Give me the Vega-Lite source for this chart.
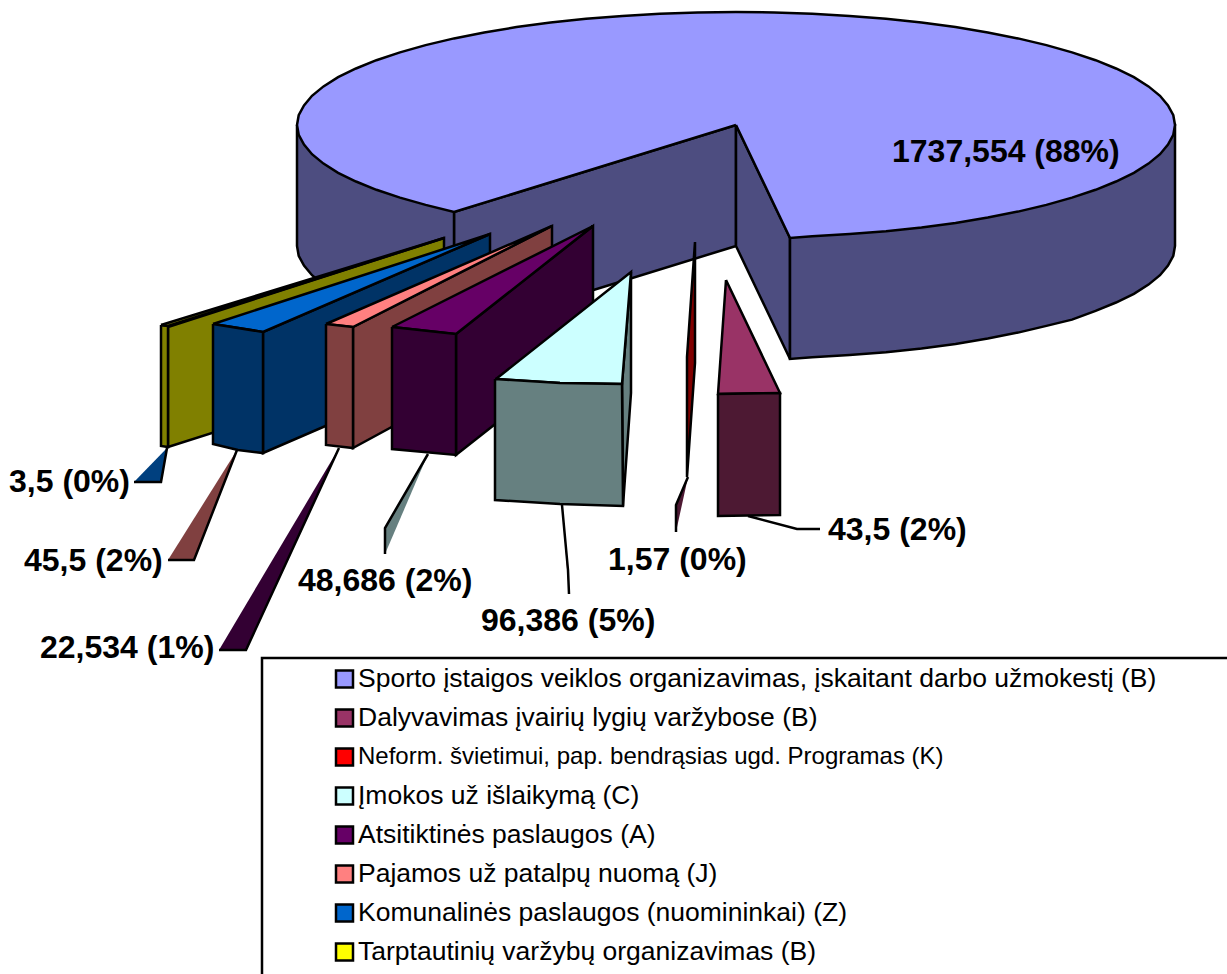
{"$schema":"https://vega.github.io/schema/vega-lite/v6.json","width":1227,"height":974,"padding":0,"autosize":{"type":"none"},"background":"white","view":{"stroke":null},
"datasets":{
"poly":[
{"shape":"wallL","face":"pieSide","i":0,"x":736,"y":125},{"shape":"wallL","face":"pieSide","i":1,"x":454,"y":212},{"shape":"wallL","face":"pieSide","i":2,"x":454,"y":333},{"shape":"wallL","face":"pieSide","i":3,"x":736,"y":246},{"shape":"wallL","face":"pieSide","i":4,"x":736,"y":125},
{"shape":"wallR","face":"pieSide","i":0,"x":736,"y":125},{"shape":"wallR","face":"pieSide","i":1,"x":790,"y":238},{"shape":"wallR","face":"pieSide","i":2,"x":790,"y":359},{"shape":"wallR","face":"pieSide","i":3,"x":736,"y":246},{"shape":"wallR","face":"pieSide","i":4,"x":736,"y":125},
{"shape":"sideR","face":"pieSide","i":0,"x":790,"y":238},{"shape":"sideR","face":"pieSide","i":1,"x":790,"y":359},{"shape":"sideR","face":"pieSide","i":2,"x":812.2,"y":357.3},{"shape":"sideR","face":"pieSide","i":3,"x":849.6,"y":355.1},{"shape":"sideR","face":"pieSide","i":4,"x":886,"y":352.2},{"shape":"sideR","face":"pieSide","i":5,"x":921.5,"y":348.4},{"shape":"sideR","face":"pieSide","i":6,"x":955.5,"y":343.9},{"shape":"sideR","face":"pieSide","i":7,"x":987.8,"y":338.6},{"shape":"sideR","face":"pieSide","i":8,"x":1018,"y":332.6},{"shape":"sideR","face":"pieSide","i":9,"x":1046.4,"y":325.9},{"shape":"sideR","face":"pieSide","i":10,"x":1072,"y":319.6},{"shape":"sideR","face":"pieSide","i":11,"x":1095.6,"y":310.8},{"shape":"sideR","face":"pieSide","i":12,"x":1116,"y":302.5},{"shape":"sideR","face":"pieSide","i":13,"x":1133.9,"y":293.8},{"shape":"sideR","face":"pieSide","i":14,"x":1148.5,"y":284.6},{"shape":"sideR","face":"pieSide","i":15,"x":1160,"y":275.2},{"shape":"sideR","face":"pieSide","i":16,"x":1168,"y":265.6},{"shape":"sideR","face":"pieSide","i":17,"x":1173.3,"y":255.8},{"shape":"sideR","face":"pieSide","i":18,"x":1175,"y":246},{"shape":"sideR","face":"pieSide","i":19,"x":1175,"y":125},{"shape":"sideR","face":"pieSide","i":20,"x":790,"y":125},{"shape":"sideR","face":"pieSide","i":21,"x":790,"y":238},
{"shape":"sideL","face":"pieSide","i":0,"x":297,"y":125},{"shape":"sideL","face":"pieSide","i":1,"x":297,"y":246},{"shape":"sideL","face":"pieSide","i":2,"x":298.7,"y":255.8},{"shape":"sideL","face":"pieSide","i":3,"x":304,"y":265.6},{"shape":"sideL","face":"pieSide","i":4,"x":312,"y":275.2},{"shape":"sideL","face":"pieSide","i":5,"x":323.5,"y":284.6},{"shape":"sideL","face":"pieSide","i":6,"x":338.1,"y":293.8},{"shape":"sideL","face":"pieSide","i":7,"x":356,"y":302.5},{"shape":"sideL","face":"pieSide","i":8,"x":376.4,"y":310.8},{"shape":"sideL","face":"pieSide","i":9,"x":400,"y":319.6},{"shape":"sideL","face":"pieSide","i":10,"x":425.6,"y":325.9},{"shape":"sideL","face":"pieSide","i":11,"x":454,"y":333},{"shape":"sideL","face":"pieSide","i":12,"x":454,"y":125},{"shape":"sideL","face":"pieSide","i":13,"x":297,"y":125},
{"shape":"top","face":"pieTop","i":0,"x":736,"y":125},{"shape":"top","face":"pieTop","i":1,"x":790,"y":238},{"shape":"top","face":"pieTop","i":2,"x":812.2,"y":236.3},{"shape":"top","face":"pieTop","i":3,"x":849.6,"y":234.1},{"shape":"top","face":"pieTop","i":4,"x":886,"y":231.2},{"shape":"top","face":"pieTop","i":5,"x":921.5,"y":227.4},{"shape":"top","face":"pieTop","i":6,"x":955.5,"y":222.9},{"shape":"top","face":"pieTop","i":7,"x":987.8,"y":217.6},{"shape":"top","face":"pieTop","i":8,"x":1018,"y":211.6},{"shape":"top","face":"pieTop","i":9,"x":1046.4,"y":204.9},{"shape":"top","face":"pieTop","i":10,"x":1072,"y":197.6},{"shape":"top","face":"pieTop","i":11,"x":1095.6,"y":189.8},{"shape":"top","face":"pieTop","i":12,"x":1116,"y":181.5},{"shape":"top","face":"pieTop","i":13,"x":1133.9,"y":172.8},{"shape":"top","face":"pieTop","i":14,"x":1148.5,"y":163.6},{"shape":"top","face":"pieTop","i":15,"x":1160,"y":154.2},{"shape":"top","face":"pieTop","i":16,"x":1168,"y":144.6},{"shape":"top","face":"pieTop","i":17,"x":1173.3,"y":134.8},{"shape":"top","face":"pieTop","i":18,"x":1175,"y":125},{"shape":"top","face":"pieTop","i":19,"x":1173.3,"y":115.2},{"shape":"top","face":"pieTop","i":20,"x":1168,"y":105.4},{"shape":"top","face":"pieTop","i":21,"x":1160,"y":95.8},{"shape":"top","face":"pieTop","i":22,"x":1148.5,"y":86.4},{"shape":"top","face":"pieTop","i":23,"x":1133.9,"y":77.2},{"shape":"top","face":"pieTop","i":24,"x":1116,"y":68.5},{"shape":"top","face":"pieTop","i":25,"x":1095.6,"y":60.2},{"shape":"top","face":"pieTop","i":26,"x":1072,"y":52.4},{"shape":"top","face":"pieTop","i":27,"x":1046.4,"y":45.1},{"shape":"top","face":"pieTop","i":28,"x":1018,"y":38.4},{"shape":"top","face":"pieTop","i":29,"x":987.8,"y":32.4},{"shape":"top","face":"pieTop","i":30,"x":955.5,"y":27.1},{"shape":"top","face":"pieTop","i":31,"x":921.5,"y":22.6},{"shape":"top","face":"pieTop","i":32,"x":886,"y":18.8},{"shape":"top","face":"pieTop","i":33,"x":849.6,"y":15.9},{"shape":"top","face":"pieTop","i":34,"x":812.2,"y":13.7},{"shape":"top","face":"pieTop","i":35,"x":774.3,"y":12.4},{"shape":"top","face":"pieTop","i":36,"x":736,"y":12},{"shape":"top","face":"pieTop","i":37,"x":697.7,"y":12.4},{"shape":"top","face":"pieTop","i":38,"x":659.8,"y":13.7},{"shape":"top","face":"pieTop","i":39,"x":622.4,"y":15.9},{"shape":"top","face":"pieTop","i":40,"x":586,"y":18.8},{"shape":"top","face":"pieTop","i":41,"x":550.5,"y":22.6},{"shape":"top","face":"pieTop","i":42,"x":516.5,"y":27.1},{"shape":"top","face":"pieTop","i":43,"x":484.2,"y":32.4},{"shape":"top","face":"pieTop","i":44,"x":454,"y":38.4},{"shape":"top","face":"pieTop","i":45,"x":425.6,"y":45.1},{"shape":"top","face":"pieTop","i":46,"x":400,"y":52.4},{"shape":"top","face":"pieTop","i":47,"x":376.4,"y":60.2},{"shape":"top","face":"pieTop","i":48,"x":356,"y":68.5},{"shape":"top","face":"pieTop","i":49,"x":338.1,"y":77.2},{"shape":"top","face":"pieTop","i":50,"x":323.5,"y":86.4},{"shape":"top","face":"pieTop","i":51,"x":312,"y":95.8},{"shape":"top","face":"pieTop","i":52,"x":304,"y":105.4},{"shape":"top","face":"pieTop","i":53,"x":298.7,"y":115.2},{"shape":"top","face":"pieTop","i":54,"x":297,"y":125},{"shape":"top","face":"pieTop","i":55,"x":298.7,"y":134.8},{"shape":"top","face":"pieTop","i":56,"x":304,"y":144.6},{"shape":"top","face":"pieTop","i":57,"x":312,"y":154.2},{"shape":"top","face":"pieTop","i":58,"x":323.5,"y":163.6},{"shape":"top","face":"pieTop","i":59,"x":338.1,"y":172.8},{"shape":"top","face":"pieTop","i":60,"x":356,"y":181.5},{"shape":"top","face":"pieTop","i":61,"x":376.4,"y":189.8},{"shape":"top","face":"pieTop","i":62,"x":400,"y":197.6},{"shape":"top","face":"pieTop","i":63,"x":425.6,"y":204.9},{"shape":"top","face":"pieTop","i":64,"x":454,"y":212},{"shape":"top","face":"pieTop","i":65,"x":736,"y":125},

{"shape":"oliveSide","face":"olive","i":0,"x":168,"y":327},{"shape":"oliveSide","face":"olive","i":1,"x":444,"y":238},{"shape":"oliveSide","face":"olive","i":2,"x":444,"y":359},{"shape":"oliveSide","face":"olive","i":3,"x":168,"y":447},{"shape":"oliveSide","face":"olive","i":4,"x":168,"y":327},
{"shape":"oliveFront","face":"olive","i":0,"x":161,"y":325},{"shape":"oliveFront","face":"olive","i":1,"x":168,"y":326},{"shape":"oliveFront","face":"olive","i":2,"x":168,"y":447},{"shape":"oliveFront","face":"olive","i":3,"x":161,"y":446},{"shape":"oliveFront","face":"olive","i":4,"x":161,"y":325},
{"shape":"oliveTop","face":"olive","i":0,"x":161,"y":325},{"shape":"oliveTop","face":"olive","i":1,"x":444,"y":238},{"shape":"oliveTop","face":"olive","i":2,"x":168,"y":326},{"shape":"oliveTop","face":"olive","i":3,"x":161,"y":325},

{"shape":"blueSide","face":"navy","i":0,"x":263,"y":332},{"shape":"blueSide","face":"navy","i":1,"x":490,"y":234},{"shape":"blueSide","face":"navy","i":2,"x":490,"y":355},{"shape":"blueSide","face":"navy","i":3,"x":263,"y":453},{"shape":"blueSide","face":"navy","i":4,"x":263,"y":332},
{"shape":"blueTop","face":"blue","i":0,"x":213,"y":324},{"shape":"blueTop","face":"blue","i":1,"x":263,"y":332},{"shape":"blueTop","face":"blue","i":2,"x":490,"y":234},{"shape":"blueTop","face":"blue","i":3,"x":213,"y":324},
{"shape":"blueFront","face":"navy","i":0,"x":213,"y":324},{"shape":"blueFront","face":"navy","i":1,"x":263,"y":332},{"shape":"blueFront","face":"navy","i":2,"x":263,"y":453},{"shape":"blueFront","face":"navy","i":3,"x":238,"y":450},{"shape":"blueFront","face":"navy","i":4,"x":213,"y":444},{"shape":"blueFront","face":"navy","i":5,"x":213,"y":324},

{"shape":"pinkSide","face":"brown","i":0,"x":353,"y":327},{"shape":"pinkSide","face":"brown","i":1,"x":552,"y":226},{"shape":"pinkSide","face":"brown","i":2,"x":552,"y":340},{"shape":"pinkSide","face":"brown","i":3,"x":353,"y":448},{"shape":"pinkSide","face":"brown","i":4,"x":353,"y":327},
{"shape":"pinkTop","face":"pink","i":0,"x":326,"y":324},{"shape":"pinkTop","face":"pink","i":1,"x":353,"y":327},{"shape":"pinkTop","face":"pink","i":2,"x":552,"y":226},{"shape":"pinkTop","face":"pink","i":3,"x":326,"y":324},
{"shape":"pinkFront","face":"brown","i":0,"x":326,"y":324},{"shape":"pinkFront","face":"brown","i":1,"x":353,"y":327},{"shape":"pinkFront","face":"brown","i":2,"x":353,"y":448},{"shape":"pinkFront","face":"brown","i":3,"x":326,"y":445},{"shape":"pinkFront","face":"brown","i":4,"x":326,"y":324},

{"shape":"purpleSide","face":"darkPurple","i":0,"x":456,"y":334},{"shape":"purpleSide","face":"darkPurple","i":1,"x":593,"y":226},{"shape":"purpleSide","face":"darkPurple","i":2,"x":593,"y":347},{"shape":"purpleSide","face":"darkPurple","i":3,"x":456,"y":455},{"shape":"purpleSide","face":"darkPurple","i":4,"x":456,"y":334},
{"shape":"purpleTop","face":"purple","i":0,"x":392,"y":327},{"shape":"purpleTop","face":"purple","i":1,"x":456,"y":334},{"shape":"purpleTop","face":"purple","i":2,"x":593,"y":226},{"shape":"purpleTop","face":"purple","i":3,"x":392,"y":327},
{"shape":"purpleFront","face":"darkPurple","i":0,"x":392,"y":327},{"shape":"purpleFront","face":"darkPurple","i":1,"x":456,"y":334},{"shape":"purpleFront","face":"darkPurple","i":2,"x":456,"y":455},{"shape":"purpleFront","face":"darkPurple","i":3,"x":392,"y":449},{"shape":"purpleFront","face":"darkPurple","i":4,"x":392,"y":327},

{"shape":"cyanSide","face":"teal","i":0,"x":622,"y":384},{"shape":"cyanSide","face":"teal","i":1,"x":631,"y":272},{"shape":"cyanSide","face":"teal","i":2,"x":631,"y":393},{"shape":"cyanSide","face":"teal","i":3,"x":623,"y":506},{"shape":"cyanSide","face":"teal","i":4,"x":622,"y":384},
{"shape":"cyanTop","face":"cyan","i":0,"x":496,"y":379},{"shape":"cyanTop","face":"cyan","i":1,"x":560,"y":383},{"shape":"cyanTop","face":"cyan","i":2,"x":622,"y":384},{"shape":"cyanTop","face":"cyan","i":3,"x":631,"y":272},{"shape":"cyanTop","face":"cyan","i":4,"x":496,"y":379},
{"shape":"cyanFront","face":"teal","i":0,"x":495,"y":379},{"shape":"cyanFront","face":"teal","i":1,"x":560,"y":383},{"shape":"cyanFront","face":"teal","i":2,"x":622,"y":384},{"shape":"cyanFront","face":"teal","i":3,"x":623,"y":506},{"shape":"cyanFront","face":"teal","i":4,"x":560,"y":504},{"shape":"cyanFront","face":"teal","i":5,"x":495,"y":500},{"shape":"cyanFront","face":"teal","i":6,"x":495,"y":379},

{"shape":"redSide","face":"darkRed","i":0,"x":695,"y":242},{"shape":"redSide","face":"darkRed","i":1,"x":687,"y":357},{"shape":"redSide","face":"darkRed","i":2,"x":687,"y":477},{"shape":"redSide","face":"darkRed","i":3,"x":695,"y":363},{"shape":"redSide","face":"darkRed","i":4,"x":695,"y":242},

{"shape":"maroonTop","face":"maroon","i":0,"x":726,"y":280},{"shape":"maroonTop","face":"maroon","i":1,"x":718,"y":394},{"shape":"maroonTop","face":"maroon","i":2,"x":780,"y":393},{"shape":"maroonTop","face":"maroon","i":3,"x":726,"y":280},
{"shape":"maroonFront","face":"darkMaroon","i":0,"x":718,"y":394},{"shape":"maroonFront","face":"darkMaroon","i":1,"x":780,"y":393},{"shape":"maroonFront","face":"darkMaroon","i":2,"x":780,"y":515},{"shape":"maroonFront","face":"darkMaroon","i":3,"x":718,"y":516},{"shape":"maroonFront","face":"darkMaroon","i":4,"x":718,"y":394},

{"shape":"lead1","face":"leaderBlue","i":0,"x":167,"y":448},{"shape":"lead1","face":"leaderBlue","i":1,"x":161,"y":482},{"shape":"lead1","face":"leaderBlue","i":2,"x":134,"y":482},
{"shape":"lead2","face":"brown","i":0,"x":237,"y":450},{"shape":"lead2","face":"brown","i":1,"x":194,"y":560},{"shape":"lead2","face":"brown","i":2,"x":168,"y":560},
{"shape":"lead3","face":"darkPurple","i":0,"x":339,"y":448},{"shape":"lead3","face":"darkPurple","i":1,"x":246,"y":650},{"shape":"lead3","face":"darkPurple","i":2,"x":219,"y":650},
{"shape":"lead4","face":"teal","i":0,"x":428,"y":454},{"shape":"lead4","face":"teal","i":1,"x":385,"y":528},{"shape":"lead4","face":"teal","i":2,"x":385,"y":554},
{"shape":"lead5","face":"darkRed","i":0,"x":562,"y":505},{"shape":"lead5","face":"darkRed","i":1,"x":568,"y":570},{"shape":"lead5","face":"darkRed","i":2,"x":569,"y":594},
{"shape":"lead6","face":"darkMaroon","i":0,"x":688,"y":477},{"shape":"lead6","face":"darkMaroon","i":1,"x":676,"y":505},{"shape":"lead6","face":"darkMaroon","i":2,"x":676,"y":532},
{"shape":"lead7","face":"paper","i":0,"x":748,"y":516},{"shape":"lead7","face":"paper","i":1,"x":797,"y":529},{"shape":"lead7","face":"paper","i":2,"x":820,"y":529},
{"shape":"box","face":"paper","i":0,"x":262,"y":976},{"shape":"box","face":"paper","i":1,"x":262,"y":658},{"shape":"box","face":"paper","i":2,"x":1229,"y":658}
],
"labels":[
{"label":"1737,554 (88%)","x":892,"y":152},
{"label":"43,5 (2%)","x":828,"y":530},
{"label":"1,57 (0%)","x":608,"y":560},
{"label":"96,386 (5%)","x":481,"y":621},
{"label":"48,686 (2%)","x":298,"y":581},
{"label":"22,534 (1%)","x":40,"y":648},
{"label":"45,5 (2%)","x":24,"y":561},
{"label":"3,5 (0%)","x":9,"y":482}
],
"legend":[
{"item":"Sporto įstaigos veiklos organizavimas, įskaitant darbo užmokestį (B)","face":"pieTop","sx":344.5,"tx":358,"y":679},
{"item":"Dalyvavimas įvairių lygių varžybose (B)","face":"maroon","sx":344.5,"tx":358,"y":718},
{"item":"Įmokos už išlaikymą (C)","face":"cyan","sx":344.5,"tx":358,"y":796},
{"item":"Atsitiktinės paslaugos (A)","face":"purple","sx":344.5,"tx":358,"y":835},
{"item":"Pajamos už patalpų nuomą (J)","face":"pink","sx":344.5,"tx":358,"y":874},
{"item":"Komunalinės paslaugos (nuomininkai) (Z)","face":"blue","sx":344.5,"tx":358,"y":913},
{"item":"Tarptautinių varžybų organizavimas (B)","face":"yellow","sx":344.5,"tx":358,"y":952}
],
"legend2":[
{"item":"Neform. švietimui, pap. bendrąsias ugd. Programas (K)","face":"red","sx":344.5,"tx":358,"y":757}
]
},
"encoding":{},
"layer":[
{"data":{"name":"poly"},"mark":{"type":"line","stroke":"black","strokeWidth":2.5,"strokeJoin":"miter","interpolate":"linear","clip":true},
"encoding":{"x":{"field":"x","type":"quantitative","scale":{"domain":[0,1227],"nice":false,"zero":false},"axis":null},"y":{"field":"y","type":"quantitative","scale":{"domain":[974,0],"nice":false,"zero":false},"axis":null},"order":{"field":"i","type":"quantitative"},"detail":{"field":"shape","type":"nominal"},
"fill":{"field":"face","type":"nominal","legend":null,"scale":{"domain":["pieSide","pieTop","olive","navy","blue","brown","pink","darkPurple","purple","teal","cyan","darkRed","red","maroon","darkMaroon","leaderBlue","paper","yellow"],"range":["#4D4D80","#9999FF","#808000","#003366","#0066CC","#804040","#FF8080","#330033","#660066","#668080","#CCFFFF","#800000","#FF0000","#993366","#4D1933","#00407F","#FFFFFF","#FFFF00"]}}}},
{"data":{"name":"labels"},"mark":{"type":"text","font":"Liberation Sans","fontWeight":"bold","fontSize":32,"align":"left","baseline":"middle","color":"black"},
"encoding":{"x":{"field":"x","type":"quantitative"},"y":{"field":"y","type":"quantitative"},"text":{"field":"label"}}},
{"data":{"name":"legend"},"mark":{"type":"text","font":"Liberation Sans","fontSize":26.5,"align":"left","baseline":"middle","color":"black"},
"encoding":{"x":{"field":"tx","type":"quantitative"},"y":{"field":"y","type":"quantitative"},"text":{"field":"item"}}},
{"data":{"name":"legend2"},"mark":{"type":"text","font":"Liberation Sans","fontSize":24,"align":"left","baseline":"middle","color":"black"},
"encoding":{"x":{"field":"tx","type":"quantitative"},"y":{"field":"y","type":"quantitative"},"text":{"field":"item"}}},
{"data":{"name":"legend"},"mark":{"type":"point","shape":"square","size":289,"filled":true,"stroke":"black","strokeWidth":2.5,"opacity":1},
"encoding":{"x":{"field":"sx","type":"quantitative"},"y":{"field":"y","type":"quantitative"},"fill":{"field":"face","type":"nominal","legend":null}}},
{"data":{"name":"legend2"},"mark":{"type":"point","shape":"square","size":289,"filled":true,"stroke":"black","strokeWidth":2.5,"opacity":1},
"encoding":{"x":{"field":"sx","type":"quantitative"},"y":{"field":"y","type":"quantitative"},"fill":{"field":"face","type":"nominal","legend":null}}}
]}
